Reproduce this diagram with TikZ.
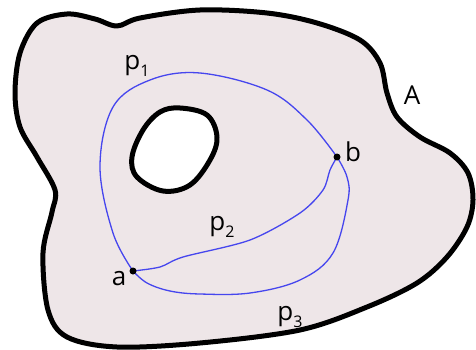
\documentclass[tikz,border=0pt]{standalone}
\usepackage{fontspec}
\setmainfont{Open Sans}
\definecolor{regionfill}{HTML}{EEE6E8}
\definecolor{pathblue}{HTML}{4646EE}
\newcommand{\plabel}[2]{#1\raisebox{-0.3em}{\fontsize{16}{18}\selectfont #2}}
\tikzset{
  boundary/.style={line width=5pt, line join=round},
  curvepath/.style={pathblue, line width=1.3pt},
  pointdot/.style={circle, fill=black, inner sep=0pt, minimum size=7pt},
  lbl/.style={font=\fontsize{26}{30}\selectfont, inner sep=0pt}
}
\begin{document}
\begin{tikzpicture}[x=1pt, y=-1pt]
 \useasboundingbox (0,0) rectangle (476,350);
 % region A
 \filldraw[boundary, fill=regionfill] plot[smooth cycle, tension=0.55] coordinates {
   (37,23) (67,14) (95,19) (117,26) (140,18) (200,10) (267,13) (317,23)
   (360,40) (380,63) (387,93) (397,117) (420,137) (450,153) (468,173)
   (473,200) (467,227) (447,257) (417,283) (367,307) (300,330) (200,343)
   (117,347) (67,337) (48,310) (43,253) (52,212) (55,190) (37,157)
   (20,127) (15,93) (20,53)};
 % hole
 \filldraw[boundary, fill=white] plot[smooth cycle, tension=0.6] coordinates {
   (180,108) (207,115) (217,137) (210,160) (190,185) (163,191)
   (137,177) (132,157) (143,130) (160,112)};
 \coordinate (a) at (133,271);
 \coordinate (b) at (337,157);
 % paths
 \draw[curvepath] plot[smooth, tension=0.6] coordinates {
   (a) (113,233) (100,167) (113,107) (150,80) (200,73) (267,90) (307,120) (b)};
 \draw[curvepath] plot[smooth, tension=0.5] coordinates {
   (a) (160,267) (183,257) (250,240) (300,213) (323,190) (330,170) (b)};
 \draw[curvepath] plot[smooth, tension=0.6] coordinates {
   (a) (147,283) (170,291) (200,294) (250,293) (300,280) (333,253) (348,200) (347,177) (b)};
 \node[pointdot] (adot) at (a) {};
 \node[pointdot] (bdot) at (b) {};
 % labels
 \node[lbl] (alabel) at (119,279) {a};
 \node[lbl] (blabel) at (353,152) {b};
 \node[lbl] (Alabel) at (412,95) {A};
 \node[lbl] (p1label) at (137,66) {\plabel{p}{1}};
 \node[lbl] (p2label) at (222,227) {\plabel{p}{2}};
 \node[lbl] (p3label) at (290,317) {\plabel{p}{3}};
\end{tikzpicture}
\end{document}
